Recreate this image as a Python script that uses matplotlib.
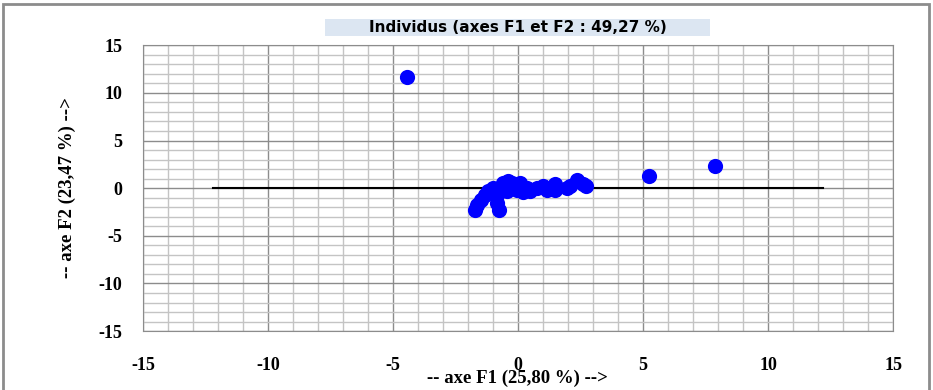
import matplotlib.pyplot as plt
import numpy as np
from matplotlib.patches import Rectangle

# Individual coordinates on F1 / F2
f1 = [-4.45, 5.25, 7.88,
      -1.72, -1.63, -1.49, -1.32, -1.19, -0.99,
      -0.76, -0.83, -0.85, -0.59, -0.39, -0.25, -0.45,
      -0.05, 0.08, 0.35, 0.48, 0.20, 0.75, 1.01, 1.15,
      1.48, 1.48, 1.95, 2.08, 2.35, 2.61, 2.71]
f2 = [11.7, 1.3, 2.35,
      -2.34, -1.74, -1.20, -0.67, -0.32, 0.04,
      -2.27, -1.56, -0.67, 0.57, 0.74, 0.57, -0.32,
      -0.14, 0.57, 0.04, -0.32, -0.45, 0.04, 0.21, -0.14,
      0.39, -0.14, 0.04, 0.21, 0.82, 0.39, 0.21]

ticks = [-15, -10, -5, 0, 5, 10, 15]
title = "Individus (axes F1 et F2 : 49,27 %)"
xlabel = "-- axe F1 (25,80 %) -->"
ylabel = "-- axe F2 (23,47 %) -->"

plt.rcParams['axes.unicode_minus'] = False

fig = plt.figure(figsize=(9.33, 3.9), dpi=100)
ax = fig.add_axes([0.1533, 0.151, 0.804, 0.733])

ax.set_xlim(-15, 15)
ax.set_ylim(-15, 15)
ax.set_xticks(ticks)
ax.set_yticks(ticks)
tick_font = dict(fontfamily='Liberation Serif', fontweight='bold', fontsize=13)
ax.set_xticklabels([str(t) for t in ticks], **tick_font)
ax.set_yticklabels([str(t) for t in ticks], **tick_font)
ax.set_xticks(np.arange(-15, 16, 1), minor=True)
ax.set_yticks(np.arange(-15, 16, 1), minor=True)
ax.grid(which='minor', color='#c4c4c4', lw=1.0, zorder=0)
ax.grid(which='major', color='#8c8c8c', lw=1.0, zorder=0)
ax.tick_params(which='both', length=0)
ax.tick_params(axis='x', pad=19)
ax.tick_params(axis='y', pad=15)
for s in ax.spines.values():
    s.set_color('#8c8c8c')

# horizontal axis line through the origin
ax.plot([-12.2, 12.2], [0, 0], color='black', lw=1.5, zorder=2)

ax.scatter(f1, f2, s=120, color='#0000ff', zorder=3, linewidths=0)

fig.text(517 / 933, 1 - 378 / 390, xlabel, ha='center', va='center',
         fontfamily='Liberation Serif', fontweight='bold', fontsize=13.5)
fig.text(67 / 933, 1 - 188 / 390, ylabel, ha='center', va='center',
         rotation=90, fontfamily='Liberation Serif', fontweight='bold',
         fontsize=13.5)

# title in a light blue box
fig.patches.append(Rectangle((325 / 933, 1 - 36 / 390), 385 / 933, 17 / 390,
                             transform=fig.transFigure, fc='#dce6f2',
                             ec='none'))
fig.text(518 / 933, 1 - 27.5 / 390, title, ha='center', va='center',
         fontfamily='DejaVu Sans', fontweight='bold', fontsize=11)

# outer frame
fig.patches.append(Rectangle((3 / 933, -0.05), 926 / 933, 1 - 4 / 390 + 0.05,
                             transform=fig.transFigure, fill=False,
                             ec='#8c8c8c', lw=2))

fig.savefig('out.png', dpi=100)
